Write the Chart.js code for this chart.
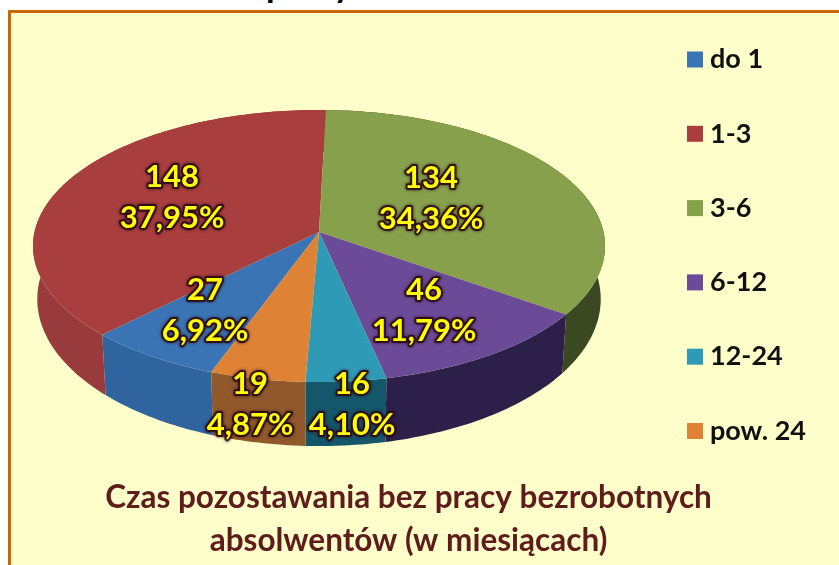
<!DOCTYPE html>
<html lang="pl">
<head>
<meta charset="UTF-8">
<title>Czas pozostawania bez pracy</title>
<script src="https://cdn.jsdelivr.net/npm/chart.js"></script>
<style>
    html, body { margin: 0; padding: 0; background: #fff; overflow: hidden; }
    #page { position: relative; width: 839px; height: 565px; overflow: hidden; }
    #frame {
        position: absolute; left: 8px; top: 10px; right: 0; bottom: 0;
        background: #fefecb;
        border-left: 3px solid #cc6600;
        border-top: 3px solid #cc6600;
    }
    #heading {
        position: absolute; left: 266px; top: -38px;
        font: bold 35px Lato, sans-serif; color: #000; white-space: nowrap;
    }
    canvas { position: absolute; left: 0; top: 0; }
</style>
</head>
<body>
<div id="page">
    <div id="frame"></div>
    <div id="heading">pracy</div>
    <canvas id="chart" width="839" height="565"></canvas>
</div>
<script>
const categories = ['do 1', '1-3', '3-6', '6-12', '12-24', 'pow. 24'];
const counts = [27, 148, 134, 46, 16, 19];
const percents = ['6,92%', '37,95%', '34,36%', '11,79%', '4,10%', '4,87%'];
const topColors = ['#3a74b4', '#a93e3e', '#86a04b', '#6b4b97', '#2f9ab6', '#de8236'];
const sideColors = ['#2f649f', '#993b3c', '#3a4922', '#2c1f49', '#14566a', '#91582b'];
const titleLines = ['Czas pozostawania bez pracy bezrobotnych', 'absolwentów (w miesiącach)'];

// where each label sits, relative to the pie apex
const labelOffsets = [[-114, 78.5], [-147, -34.5], [112, -33.5], [105, 78.5], [33, 172.5], [-69, 172.5]];

// tilted view of the pie: a projective map of the unit circle
const apex = { x: 319, y: 232 };
const view = { rx: 284.5, ry: 134.6, p: 0.103 };
const base = { sx: 0.985, sy: 1.08, dy: 52 };

function project(angle) {
    const u = Math.cos(angle), v = Math.sin(angle);
    const w = 1 - view.p * v;
    return { x: view.rx * u / w, y: view.ry * v / w };
}

function rimPoints(arc) {
    const pts = [];
    const steps = Math.max(2, Math.ceil((arc.endAngle - arc.startAngle) / 0.02));
    for (let i = 0; i <= steps; i++) {
        pts.push(project(arc.startAngle + (arc.endAngle - arc.startAngle) * i / steps));
    }
    return pts;
}

const tiltedPie = {
    id: 'tiltedPie',
    beforeDatasetDraw(chart, args) {
        const ctx = chart.ctx;
        const arcs = args.meta.data;
        ctx.save();
        ctx.translate(apex.x, apex.y);
        // sides first, the top face covers whatever faces backwards
        arcs.forEach((arc, i) => {
            const pts = rimPoints(arc);
            ctx.beginPath();
            pts.forEach((p, k) => k ? ctx.lineTo(p.x, p.y) : ctx.moveTo(p.x, p.y));
            pts.slice().reverse().forEach(p => ctx.lineTo(p.x * base.sx, p.y * base.sy + base.dy));
            ctx.closePath();
            ctx.fillStyle = sideColors[i];
            ctx.fill();
        });
        arcs.forEach((arc, i) => {
            ctx.beginPath();
            ctx.moveTo(0, 0);
            rimPoints(arc).forEach(p => ctx.lineTo(p.x, p.y));
            ctx.closePath();
            ctx.fillStyle = topColors[i];
            ctx.fill();
        });
        ctx.restore();
        return false;
    },
    afterDraw(chart) {
        const ctx = chart.ctx;
        ctx.save();

        // slice labels
        ctx.font = 'bold 31px Lato, sans-serif';
        ctx.textAlign = 'center';
        ctx.textBaseline = 'middle';
        ctx.lineJoin = 'round';
        categories.forEach((c, i) => {
            const x = apex.x + labelOffsets[i][0], y = apex.y + labelOffsets[i][1];
            [[String(counts[i]), y - 20.5], [percents[i], y + 20.5]].forEach(([text, ty]) => {
                ctx.shadowColor = '#2a0a18';
                ctx.shadowBlur = 3;
                ctx.strokeStyle = 'rgba(42,10,24,0.85)';
                ctx.lineWidth = 4;
                ctx.strokeText(text, x, ty);
                ctx.shadowBlur = 0;
                ctx.fillStyle = '#ffff00';
                ctx.fillText(text, x, ty);
            });
        });

        // legend, the built-in one keeps too wide a gap after the box
        ctx.font = 'bold 27px Lato, sans-serif';
        ctx.textAlign = 'left';
        categories.forEach((c, i) => {
            const y = 59.5 + i * 74.3;
            ctx.fillStyle = topColors[i];
            ctx.fillRect(687, y - 8, 16, 16);
            ctx.fillStyle = '#111';
            ctx.fillText(c, 710, y);
        });
        ctx.restore();
    }
};

new Chart(document.getElementById('chart'), {
    type: 'pie',
    data: {
        labels: categories,
        datasets: [{ data: counts, backgroundColor: topColors, borderWidth: 0 }]
    },
    options: {
        responsive: false,
        animation: false,
        rotation: 200,
        layout: { padding: { right: 22, bottom: 3 } },
        plugins: {
            tooltip: { enabled: false },
            legend: { display: false },
            title: {
                display: true,
                position: 'bottom',
                text: titleLines,
                color: '#5e1c1c',
                font: { family: 'Lato, sans-serif', size: 31.5, weight: 'bold', lineHeight: 1.365 },
                padding: 0
            }
        }
    },
    plugins: [tiltedPie]
});
</script>
</body>
</html>
